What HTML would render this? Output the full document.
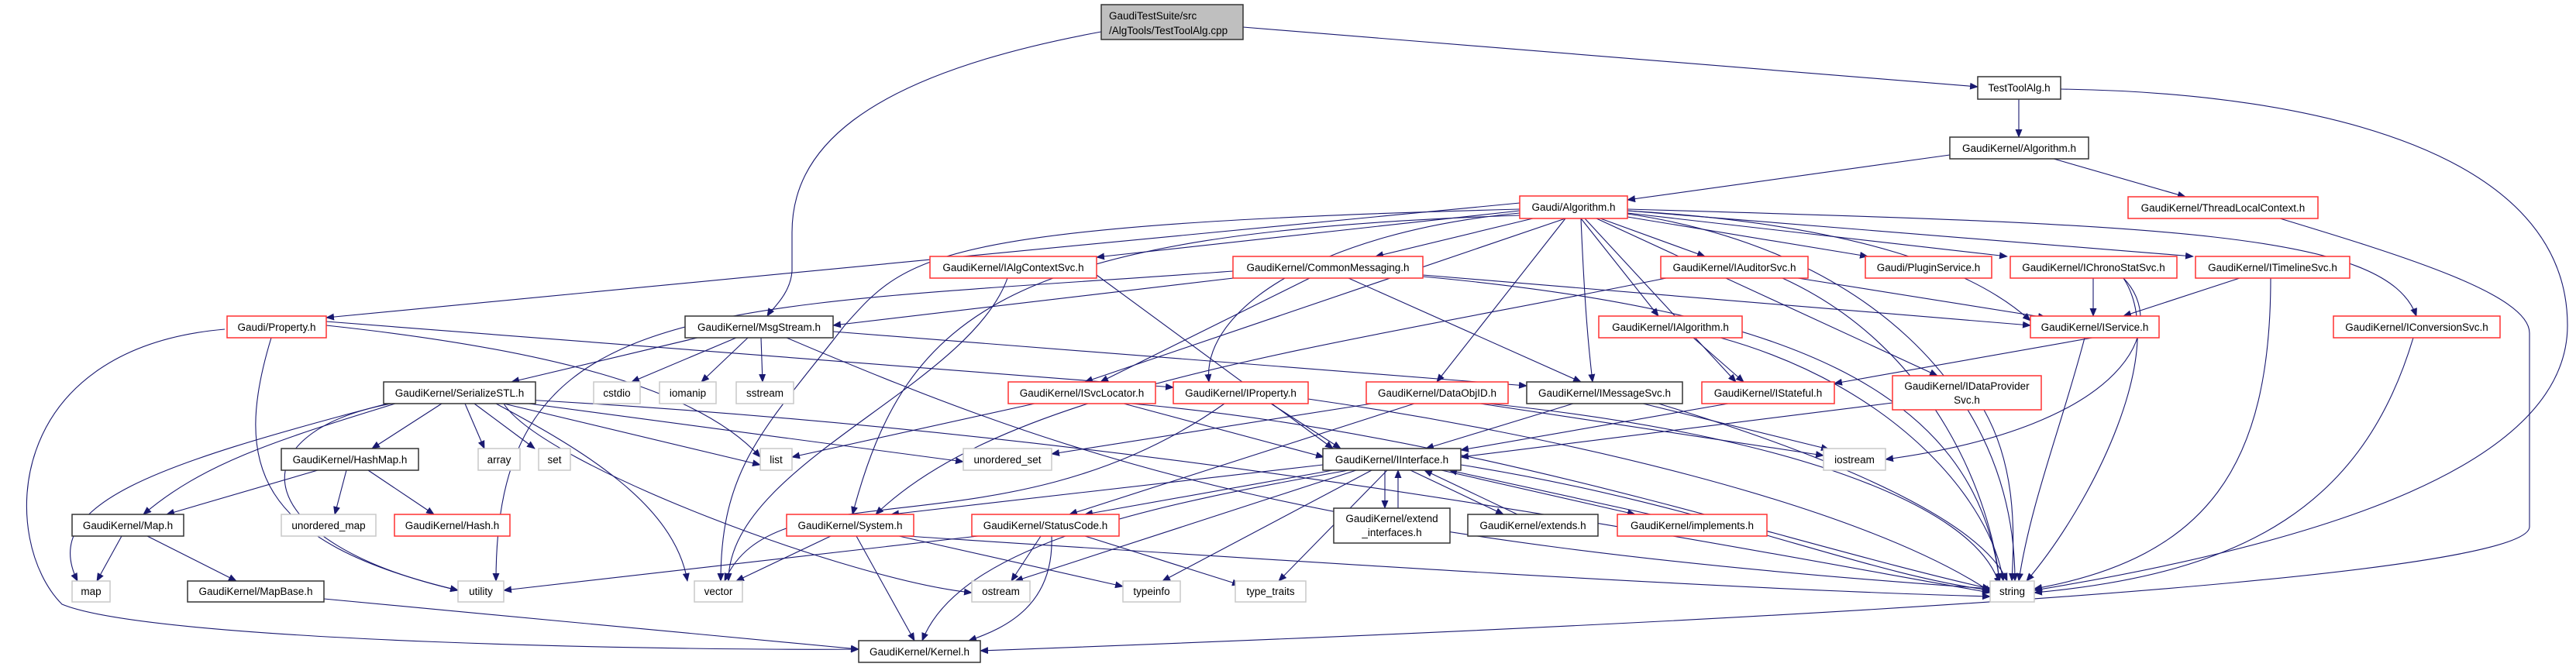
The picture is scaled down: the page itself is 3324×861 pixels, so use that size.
<!DOCTYPE html>
<html><head><meta charset="utf-8"><style>
html,body{margin:0;padding:0;background:#fff;}
svg{display:block;}
text{font-family:"Liberation Sans",sans-serif;font-size:13.5px;fill:#000;}
.r{fill:#fff;stroke:#ff3030;stroke-width:1.5}
.b{fill:#fff;stroke:#333;stroke-width:1.5}
.g{fill:#fff;stroke:#c8c8c8;stroke-width:1.5}
.e{fill:none;stroke:#191970;stroke-width:1.1;marker-end:url(#a)}
</style></head><body>
<svg width="3324" height="861" viewBox="0 0 3324 861" xmlns="http://www.w3.org/2000/svg">
<defs><marker id="a" markerUnits="userSpaceOnUse" markerWidth="11" markerHeight="9" refX="10" refY="4.5" orient="auto"><path d="M0,0 L11,4.5 L0,9 z" fill="#191970"/></marker></defs>
<g>
<path class="e" d="M1604 35 L2552 112"/>
<path class="e" d="M1421 41 C1100 100,1022 200,1022 300 L1022 350 C1020 380,995 400,990 408"/>
<path class="e" d="M2605 128 L2605 177"/>
<path class="e" d="M2659 115 C3000 120,3313 200,3313 420 C3313 600,3000 700,2625 762"/>
<path class="e" d="M2516 200 L2100 258"/>
<path class="e" d="M2650 205 L2820 254"/>
<path class="e" d="M2942 282 C3100 330,3264 380,3264 430 L3264 680 C3264 720,2900 780,1265 840"/>
<path class="e" d="M1961 262 L421 410"/>
<path class="e" d="M1961 272 L1415 332"/>
<path class="e" d="M1978 282 L1775 331"/>
<path class="e" d="M2065 282 L2200 331"/>
<path class="e" d="M2100 280 L2410 331"/>
<path class="e" d="M2100 275 L2590 331"/>
<path class="e" d="M2100 272 L2830 331"/>
<path class="e" d="M2100 270 C2800 290,3080 300,3118 408"/>
<path class="e" d="M2100 272 C2400 290,2550 350,2620 414"/>
<path class="e" d="M2040 282 L2140 408"/>
<path class="e" d="M2020 282 L1400 493"/>
<path class="e" d="M1961 275 C1700 300,1550 400,1560 493"/>
<path class="e" d="M2020 282 L1854 493"/>
<path class="e" d="M2040 282 C2045 400,2050 450,2055 493"/>
<path class="e" d="M2045 282 L2240 493"/>
<path class="e" d="M2060 282 L2500 485"/>
<path class="e" d="M1961 278 C1300 300,1170 400,1100 664"/>
<path class="e" d="M1961 270 C1200 290,1170 330,1090 420 C990 550,930 600,930 750"/>
<path class="e" d="M2100 276 C2400 320,2600 500,2600 750"/>
<path class="e" d="M1600 358 L1075 420"/>
<path class="e" d="M1690 359 L1420 493"/>
<path class="e" d="M1740 359 L2040 493"/>
<path class="e" d="M1836 355 L2620 420"/>
<path class="e" d="M1836 357 C2300 400,2550 500,2580 750"/>
<path class="e" d="M1591 350 C900 400,640 380,640 750"/>
<path class="e" d="M1415 355 L1720 579"/>
<path class="e" d="M1300 359 C1250 500,940 600,940 750"/>
<path class="e" d="M421 415 L1514 500"/>
<path class="e" d="M290 425 C0 450,0 700,80 780 C200 830,900 840,1108 838"/>
<path class="e" d="M350 436 C300 600,330 700,591 762"/>
<path class="e" d="M421 420 C700 450,900 500,981 590"/>
<path class="e" d="M900 436 L660 493"/>
<path class="e" d="M950 436 L815 493"/>
<path class="e" d="M965 436 L905 493"/>
<path class="e" d="M982 436 L984 493"/>
<path class="e" d="M1075 428 L1970 498"/>
<path class="e" d="M1015 436 C1400 600,1700 700,2570 760"/>
<path class="e" d="M570 521 L480 579"/>
<path class="e" d="M600 521 L625 579"/>
<path class="e" d="M612 521 L690 579"/>
<path class="e" d="M510 521 C350 570,260 600,185 664"/>
<path class="e" d="M500 521 C200 600,50 650,100 750"/>
<path class="e" d="M505 521 C300 560,320 700,591 762"/>
<path class="e" d="M640 521 C750 580,870 650,887 750"/>
<path class="e" d="M650 521 L981 600"/>
<path class="e" d="M660 518 L1243 596"/>
<path class="e" d="M650 521 C700 600,1100 750,1254 765"/>
<path class="e" d="M660 515 C1500 560,2200 700,2568 765"/>
<path class="e" d="M410 607 L215 664"/>
<path class="e" d="M447 607 L432 664"/>
<path class="e" d="M475 607 L560 664"/>
<path class="e" d="M157 692 L125 750"/>
<path class="e" d="M190 692 L305 750"/>
<path class="e" d="M418 773 L1108 838"/>
<path class="e" d="M1450 521 L1708 590"/>
<path class="e" d="M1335 521 L1022 590"/>
<path class="e" d="M1460 521 C1900 560,2300 700,2568 760"/>
<path class="e" d="M1640 521 L1730 579"/>
<path class="e" d="M1580 521 C1300 720,1000 600,935 750"/>
<path class="e" d="M1688 515 C2000 560,2400 650,2570 765"/>
<path class="e" d="M1770 521 L1357 586"/>
<path class="e" d="M1910 521 L2353 588"/>
<path class="e" d="M1920 521 C2300 560,2550 650,2580 755"/>
<path class="e" d="M1825 521 L1380 664"/>
<path class="e" d="M2030 521 L1840 579"/>
<path class="e" d="M2120 521 L2360 580"/>
<path class="e" d="M2140 521 C2400 600,2560 680,2590 750"/>
<path class="e" d="M2230 521 L1885 581"/>
<path class="e" d="M2185 436 L2250 493"/>
<path class="e" d="M2220 436 C2450 500,2570 650,2585 750"/>
<path class="e" d="M2320 359 L2640 410"/>
<path class="e" d="M2150 359 C1700 450,1300 500,1130 664"/>
<path class="e" d="M2300 359 C2500 450,2570 650,2580 750"/>
<path class="e" d="M2700 436 L2367 495"/>
<path class="e" d="M2690 436 C2660 550,2620 650,2605 750"/>
<path class="e" d="M2701 359 L2701 408"/>
<path class="e" d="M2740 359 C2800 450,2700 650,2615 750"/>
<path class="e" d="M2740 359 C2800 420,2750 550,2433 593"/>
<path class="e" d="M2890 359 L2740 408"/>
<path class="e" d="M2930 359 C2930 600,2850 720,2625 760"/>
<path class="e" d="M3114 436 C3050 650,2900 740,2625 765"/>
<path class="e" d="M2442 520 L1885 590"/>
<path class="e" d="M2560 529 C2600 600,2600 680,2596 750"/>
<path class="e" d="M1707 600 L1150 664"/>
<path class="e" d="M1720 607 L1400 664"/>
<path class="e" d="M1740 607 C1500 650,1240 700,1190 827"/>
<path class="e" d="M1750 607 L1310 750"/>
<path class="e" d="M1770 607 L1500 750"/>
<path class="e" d="M1790 607 L1650 750"/>
<path class="e" d="M1787 607 L1787 656"/>
<path class="e" d="M1804 656 L1804 607"/>
<path class="e" d="M1820 607 L1940 664"/>
<path class="e" d="M1958 664 L1838 607"/>
<path class="e" d="M1860 607 L2110 664"/>
<path class="e" d="M2130 664 L1870 607"/>
<path class="e" d="M1885 600 C2200 650,2400 740,2568 762"/>
<path class="e" d="M1105 692 L1180 827"/>
<path class="e" d="M1072 692 L950 750"/>
<path class="e" d="M1160 692 L1449 757"/>
<path class="e" d="M1170 692 C1600 720,2200 760,2568 770"/>
<path class="e" d="M1343 692 L1305 750"/>
<path class="e" d="M1400 692 L1600 755"/>
<path class="e" d="M1357 692 C1360 780,1300 810,1250 827"/>
<path class="e" d="M1262 692 L650 762"/>
</g>
<g>
<rect x="1421" y="6" width="183" height="45" fill="#bfbfbf" stroke="#333" stroke-width="1.5"/>
<text x="1431" y="25">GaudiTestSuite/src</text><text x="1431" y="44">/AlgTools/TestToolAlg.cpp</text>

<rect class="b" x="2552" y="99" width="107" height="29"/><text x="2605.5" y="118" text-anchor="middle">TestToolAlg.h</text>
<rect class="b" x="2516" y="177" width="179" height="28"/><text x="2605.5" y="196" text-anchor="middle">GaudiKernel/Algorithm.h</text>
<rect class="r" x="2746" y="254" width="245" height="28"/><text x="2868.5" y="273" text-anchor="middle">GaudiKernel/ThreadLocalContext.h</text>
<rect class="r" x="1961" y="253" width="139" height="29"/><text x="2030.5" y="272" text-anchor="middle">Gaudi/Algorithm.h</text>

<rect class="r" x="1200" y="331" width="215" height="28"/><text x="1307.5" y="350" text-anchor="middle">GaudiKernel/IAlgContextSvc.h</text>
<rect class="r" x="1591" y="331" width="245" height="28"/><text x="1713.5" y="350" text-anchor="middle">GaudiKernel/CommonMessaging.h</text>
<rect class="r" x="2143" y="331" width="190" height="28"/><text x="2238" y="350" text-anchor="middle">GaudiKernel/IAuditorSvc.h</text>
<rect class="r" x="2407" y="331" width="163" height="28"/><text x="2488.5" y="350" text-anchor="middle">Gaudi/PluginService.h</text>
<rect class="r" x="2594" y="331" width="215" height="28"/><text x="2701.5" y="350" text-anchor="middle">GaudiKernel/IChronoStatSvc.h</text>
<rect class="r" x="2833" y="331" width="199" height="28"/><text x="2932.5" y="350" text-anchor="middle">GaudiKernel/ITimelineSvc.h</text>

<rect class="r" x="293" y="408" width="128" height="28"/><text x="357" y="427" text-anchor="middle">Gaudi/Property.h</text>
<rect class="b" x="884" y="408" width="191" height="28"/><text x="979.5" y="427" text-anchor="middle">GaudiKernel/MsgStream.h</text>
<rect class="r" x="2063" y="408" width="185" height="28"/><text x="2155.5" y="427" text-anchor="middle">GaudiKernel/IAlgorithm.h</text>
<rect class="r" x="2620" y="408" width="166" height="28"/><text x="2703" y="427" text-anchor="middle">GaudiKernel/IService.h</text>
<rect class="r" x="3011" y="408" width="215" height="28"/><text x="3118.5" y="427" text-anchor="middle">GaudiKernel/IConversionSvc.h</text>

<rect class="b" x="495" y="493" width="196" height="28"/><text x="593" y="512" text-anchor="middle">GaudiKernel/SerializeSTL.h</text>
<rect class="g" x="766" y="493" width="60" height="28"/><text x="796" y="512" text-anchor="middle">cstdio</text>
<rect class="g" x="851" y="493" width="73" height="28"/><text x="887.5" y="512" text-anchor="middle">iomanip</text>
<rect class="g" x="950" y="493" width="74" height="28"/><text x="987" y="512" text-anchor="middle">sstream</text>
<rect class="r" x="1301" y="493" width="190" height="28"/><text x="1396" y="512" text-anchor="middle">GaudiKernel/ISvcLocator.h</text>
<rect class="r" x="1514" y="493" width="174" height="28"/><text x="1601" y="512" text-anchor="middle">GaudiKernel/IProperty.h</text>
<rect class="r" x="1763" y="493" width="183" height="28"/><text x="1854.5" y="512" text-anchor="middle">GaudiKernel/DataObjID.h</text>
<rect class="b" x="1970" y="493" width="201" height="28"/><text x="2070.5" y="512" text-anchor="middle">GaudiKernel/IMessageSvc.h</text>
<rect class="r" x="2196" y="493" width="171" height="28"/><text x="2281.5" y="512" text-anchor="middle">GaudiKernel/IStateful.h</text>
<rect class="r" x="2442" y="485" width="192" height="44"/><text x="2538" y="503" text-anchor="middle">GaudiKernel/IDataProvider</text><text x="2538" y="521" text-anchor="middle">Svc.h</text>

<rect class="b" x="363" y="579" width="177" height="28"/><text x="451.5" y="598" text-anchor="middle">GaudiKernel/HashMap.h</text>
<rect class="g" x="617" y="579" width="54" height="28"/><text x="644" y="598" text-anchor="middle">array</text>
<rect class="g" x="695" y="579" width="41" height="28"/><text x="715.5" y="598" text-anchor="middle">set</text>
<rect class="g" x="981" y="579" width="41" height="28"/><text x="1001.5" y="598" text-anchor="middle">list</text>
<rect class="g" x="1243" y="579" width="114" height="28"/><text x="1300" y="598" text-anchor="middle">unordered_set</text>
<rect class="b" x="1707" y="579" width="178" height="28"/><text x="1796" y="598" text-anchor="middle">GaudiKernel/IInterface.h</text>
<rect class="g" x="2353" y="579" width="80" height="28"/><text x="2393" y="598" text-anchor="middle">iostream</text>

<rect class="b" x="93" y="664" width="144" height="28"/><text x="165" y="683" text-anchor="middle">GaudiKernel/Map.h</text>
<rect class="g" x="363" y="664" width="122" height="28"/><text x="424" y="683" text-anchor="middle">unordered_map</text>
<rect class="r" x="509" y="664" width="149" height="28"/><text x="583.5" y="683" text-anchor="middle">GaudiKernel/Hash.h</text>
<rect class="r" x="1015" y="664" width="164" height="28"/><text x="1097" y="683" text-anchor="middle">GaudiKernel/System.h</text>
<rect class="r" x="1254" y="664" width="190" height="28"/><text x="1349" y="683" text-anchor="middle">GaudiKernel/StatusCode.h</text>
<rect class="b" x="1721" y="656" width="150" height="45"/><text x="1796" y="674" text-anchor="middle">GaudiKernel/extend</text><text x="1796" y="692" text-anchor="middle">_interfaces.h</text>
<rect class="b" x="1894" y="664" width="168" height="28"/><text x="1978" y="683" text-anchor="middle">GaudiKernel/extends.h</text>
<rect class="r" x="2087" y="664" width="193" height="28"/><text x="2183.5" y="683" text-anchor="middle">GaudiKernel/implements.h</text>

<rect class="g" x="93" y="750" width="49" height="27"/><text x="117.5" y="768" text-anchor="middle">map</text>
<rect class="b" x="242" y="750" width="176" height="27"/><text x="330" y="768" text-anchor="middle">GaudiKernel/MapBase.h</text>
<rect class="g" x="591" y="750" width="59" height="27"/><text x="620.5" y="768" text-anchor="middle">utility</text>
<rect class="g" x="896" y="750" width="62" height="27"/><text x="927" y="768" text-anchor="middle">vector</text>
<rect class="g" x="1254" y="750" width="75" height="27"/><text x="1291.5" y="768" text-anchor="middle">ostream</text>
<rect class="g" x="1449" y="750" width="74" height="27"/><text x="1486" y="768" text-anchor="middle">typeinfo</text>
<rect class="g" x="1594" y="750" width="91" height="27"/><text x="1639.5" y="768" text-anchor="middle">type_traits</text>
<rect class="g" x="2568" y="750" width="57" height="27"/><text x="2596.5" y="768" text-anchor="middle">string</text>

<rect class="b" x="1108" y="827" width="157" height="28"/><text x="1186.5" y="846" text-anchor="middle">GaudiKernel/Kernel.h</text>
</g>
</svg>
</body></html>
